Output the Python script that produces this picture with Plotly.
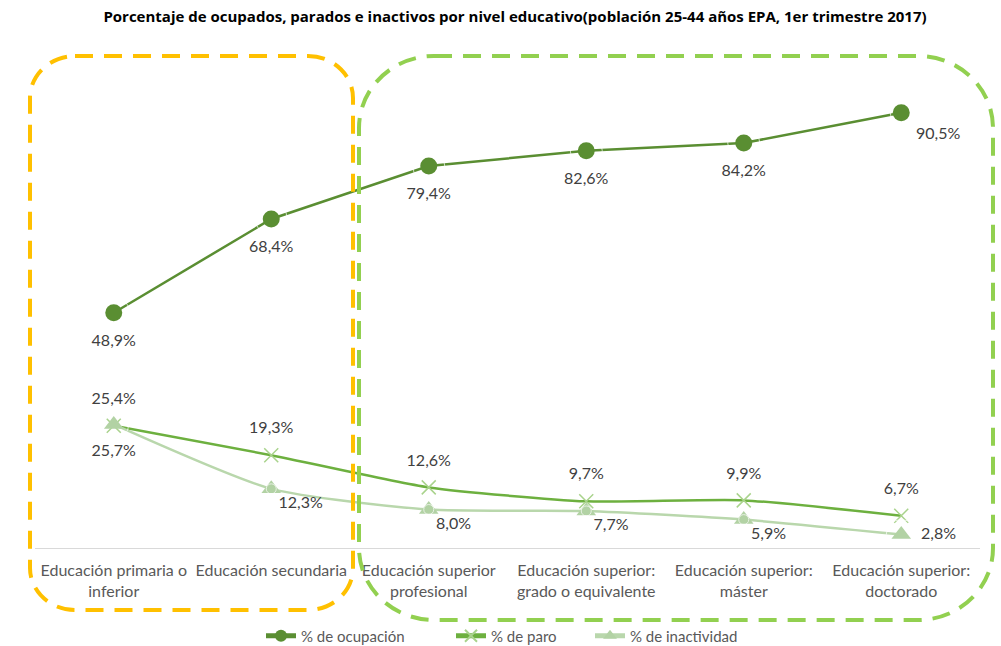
import plotly.graph_objects as go

categories = [
    "Educación primaria o<br>inferior",
    "Educación secundaria",
    "Educación superior<br>profesional",
    "Educación superior:<br>grado o equivalente",
    "Educación superior:<br>máster",
    "Educación superior:<br>doctorado",
]
ocupacion = [48.9, 68.4, 79.4, 82.6, 84.2, 90.5]
paro = [25.4, 19.3, 12.6, 9.7, 9.9, 6.7]
inactividad = [25.7, 12.3, 8.0, 7.7, 5.9, 2.8]

series_names = ["% de ocupación", "% de paro", "% de inactividad"]

def fmt(vals):
    return [f"{v:.1f}".replace(".", ",") + "%" for v in vals]

W, H = 1001, 646
ML, MR, MT, MB = 35, 21, 67, 98
PW = W - ML - MR
PH = H - MT - MB

def px(x):
    return (x - ML) / PW

def py(y):
    return (H - MB - y) / PH

def rounded_rect(x0, y0, x1, y1, rx, ry):
    k = 0.5523
    def p(x, y):
        return f"{px(x):.5f},{py(y):.5f}"
    return (
        f"M {p(x0+rx, y0)} L {p(x1-rx, y0)} "
        f"C {p(x1-rx+k*rx, y0)} {p(x1, y0+ry-k*ry)} {p(x1, y0+ry)} "
        f"L {p(x1, y1-ry)} "
        f"C {p(x1, y1-ry+k*ry)} {p(x1-rx+k*rx, y1)} {p(x1-rx, y1)} "
        f"L {p(x0+rx, y1)} "
        f"C {p(x0+rx-k*rx, y1)} {p(x0, y1-ry+k*ry)} {p(x0, y1-ry)} "
        f"L {p(x0, y0+ry)} "
        f"C {p(x0, y0+ry-k*ry)} {p(x0+rx-k*rx, y0)} {p(x0+rx, y0)} Z"
    )

label_font = dict(family="Lato, Calibri, sans-serif", size=16, color="#404040")

fig = go.Figure()
# main series
fig.add_trace(go.Scatter(
    x=categories, y=ocupacion, name=series_names[0], mode="lines+markers", legend="legend",
    line=dict(color="#5A8E32", width=2.5),
    marker=dict(symbol="circle", size=17, color="#5A8E32"),
))
fig.add_trace(go.Scatter(
    x=categories, y=paro, name=series_names[1], mode="lines+markers", legend="legend2",
    line=dict(color="#6DB03F", width=2.5, shape="spline", smoothing=0.6),
    marker=dict(symbol="x-thin", size=14, line=dict(color="#A9D38C", width=1.5), color="#A9D38C"),
))
fig.add_trace(go.Scatter(
    x=categories, y=inactividad, name=series_names[2], mode="lines+markers", legend="legend3",
    line=dict(color="#B9D7AC", width=2.5, shape="spline", smoothing=0.6),
    marker=dict(symbol="triangle-up", size=17, color="#B2D2A4"),
))

# data labels (invisible markers set the label offset)
fig.add_trace(go.Scatter(
    x=categories, y=ocupacion, mode="markers+text", showlegend=False, hoverinfo="skip",
    marker=dict(size=[32, 32, 32, 32, 32, 22], color="rgba(0,0,0,0)"),
    text=fmt(ocupacion),
    textposition=["bottom center"] * 5 + ["bottom right"],
    textfont=label_font,
))
fig.add_trace(go.Scatter(
    x=categories, y=paro, mode="markers+text", showlegend=False, hoverinfo="skip",
    marker=dict(size=27, color="rgba(0,0,0,0)"),
    text=fmt(paro),
    textposition="top center",
    textfont=label_font,
))
fig.add_trace(go.Scatter(
    x=categories, y=inactividad, mode="markers+text", showlegend=False, hoverinfo="skip",
    marker=dict(size=[30, 10, 10, 10, 10, 30], color="rgba(0,0,0,0)"),
    text=fmt(inactividad),
    textposition=["bottom center", "bottom right", "bottom right", "bottom right", "bottom right", "middle right"],
    textfont=label_font,
))

legend_style = dict(
    orientation="h", xref="container", xanchor="left",
    yref="container", y=1 - 636 / H, yanchor="middle",
    font=dict(family="Lato, Calibri, sans-serif", size=15, color="#595959"),
    itemsizing="constant", bgcolor="rgba(0,0,0,0)",
)

fig.update_layout(
    width=W, height=H,
    margin=dict(l=ML, r=MR, t=MT, b=MB, pad=0, autoexpand=False),
    paper_bgcolor="white", plot_bgcolor="white",
    title=dict(
        text="<b>Porcentaje de ocupados, parados e inactivos por nivel educativo(población 25-44 años EPA, 1er trimestre 2017)</b>",
        x=515 / W, xref="container", xanchor="center",
        y=1 - 17 / H, yref="container", yanchor="middle",
        font=dict(family="Open Sans, sans-serif", size=15, color="#000000"),
    ),
    xaxis=dict(
        type="category", range=[-0.5, 5.5],
        showgrid=False, showline=True, linecolor="#D9D9D9", linewidth=1,
        ticks="", ticklabelstandoff=8, automargin=False,
        tickfont=dict(family="Lato, Calibri, sans-serif", size=16, color="#595959"),
        zeroline=False, fixedrange=True,
    ),
    yaxis=dict(
        range=[0, 100], showgrid=False, showline=False, showticklabels=False,
        zeroline=False, fixedrange=True, automargin=False,
    ),
    showlegend=True,
    legend=dict(legend_style, x=(265 - 4) / W),
    legend2=dict(legend_style, x=(455 - 4) / W),
    legend3=dict(legend_style, x=(593 - 3) / W),
    shapes=[
        dict(type="path", xref="paper", yref="paper",
             path=rounded_rect(30, 56, 353, 610, 45, 42),
             line=dict(color="#FFC000", width=4, dash="18px,11px"), layer="above"),
        dict(type="path", xref="paper", yref="paper",
             path=rounded_rect(359, 56, 993, 620, 75, 72),
             line=dict(color="#92D050", width=4, dash="18px,11px"), layer="above"),
    ],
)

fig.write_html(
    "out.html",
    config={"displayModeBar": False},
    post_script="document.body.style.margin='0';document.body.style.overflow='hidden';",
)
